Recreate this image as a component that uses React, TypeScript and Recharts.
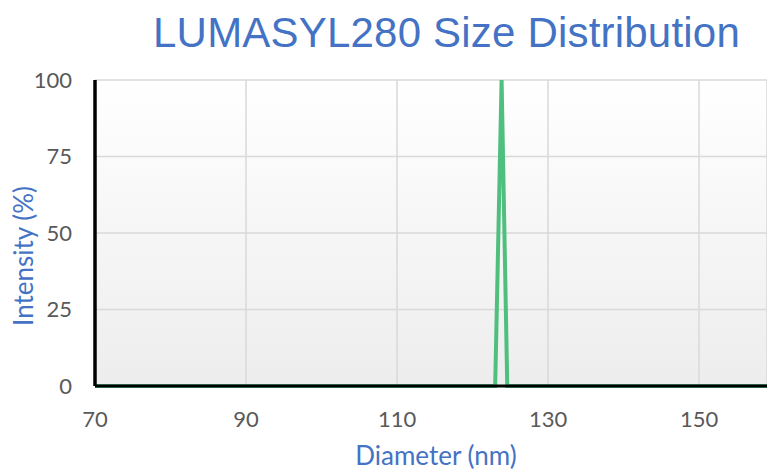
import { LineChart, Line, XAxis, YAxis, CartesianGrid } from "recharts";

const diameters = [70, 123.0, 123.85, 124.6, 159];
const intensity = [0, 0, 100, 0, 0];
const baseline = [0, 0, null, 0, 0];

const xTicks = [70, 90, 110, 130, 150];
const yTicks = [0, 25, 50, 75, 100];

const data = diameters.map((d, i) => ({ d, v: intensity[i], b: baseline[i] }));

const BLUE = "#4472c4";
const TICK = { fill: "#595959", fontSize: 22, fontFamily: "Lato" };

export default function App() {
  return (
    <div style={{ position: "absolute", left: 0, top: 0, width: 767, height: 470, background: "#fff" }}>
      <div
        style={{
          position: "absolute",
          left: 0,
          width: 893,
          top: 8,
          textAlign: "center",
          fontFamily: "Liberation Sans",
          fontSize: 42,
          letterSpacing: 0.2,
          color: BLUE,
          lineHeight: "50px",
        }}
      >
        LUMASYL280 Size Distribution
      </div>
      <LineChart width={767} height={470} data={data} margin={{ top: 80, right: 0, bottom: 54, left: 0 }}>
        <defs>
          <linearGradient id="bg" x1="0" y1="0" x2="0" y2="1">
            <stop offset="0%" stopColor="#ffffff" />
            <stop offset="100%" stopColor="#ededed" />
          </linearGradient>
        </defs>
        <CartesianGrid stroke="#d9d9d9" strokeWidth={1.5} fill="url(#bg)" fillOpacity={1} />
        <XAxis
          dataKey="d"
          type="number"
          domain={[70, 159]}
          ticks={xTicks}
          allowDataOverflow
          tickLine={false}
          tickSize={6}
          tickMargin={19}
          axisLine={{ stroke: "#000", strokeWidth: 3 }}
          tick={TICK}
        />
        <YAxis
          type="number"
          domain={[0, 100]}
          ticks={yTicks}
          width={95}
          tickLine={false}
          tickSize={6}
          tickMargin={17}
          axisLine={{ stroke: "#000", strokeWidth: 3.5 }}
          tick={TICK}
        />
        <Line
          type="linear"
          dataKey="b"
          stroke="#1e7b45"
          strokeWidth={3.5}
          dot={false}
          connectNulls={false}
          isAnimationActive={false}
        />
        <Line
          type="linear"
          dataKey="v"
          stroke="#4fbf7e"
          strokeWidth={4}
          dot={false}
          isAnimationActive={false}
        />
      </LineChart>
      <div
        style={{
          position: "absolute",
          left: 336,
          width: 200,
          top: 440,
          textAlign: "center",
          fontFamily: "Lato",
          fontSize: 26,
          color: BLUE,
          lineHeight: "30px",
        }}
      >
        Diameter (nm)
      </div>
      <div
        style={{
          position: "absolute",
          left: 23,
          top: 256,
          width: 200,
          marginLeft: -100,
          marginTop: -15,
          textAlign: "center",
          transform: "rotate(-90deg)",
          fontFamily: "Lato",
          fontSize: 26,
          color: BLUE,
          lineHeight: "30px",
        }}
      >
        Intensity (%)
      </div>
    </div>
  );
}
